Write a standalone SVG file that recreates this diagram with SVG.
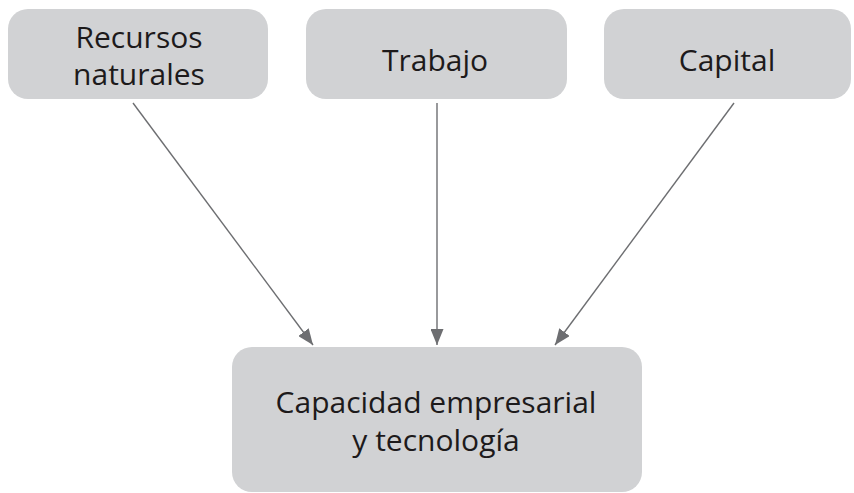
<svg xmlns="http://www.w3.org/2000/svg" width="854" height="493" viewBox="0 0 854 493">
<defs>
<style>
.box{fill:#d1d2d4;}
.lbl{font-family:"Open Sans","Noto Sans",sans-serif;font-size:30px;font-weight:500;fill:#1d1a1b;text-anchor:middle;}
.conn{stroke:#6d6e71;stroke-width:1.4;fill:none;}
</style>
<marker id="ah" markerWidth="16" markerHeight="13" viewBox="0 0 16 13" refX="16" refY="6.5" orient="auto" markerUnits="userSpaceOnUse">
<path d="M0,0 L16,6.5 L0,13 Z" fill="#6d6e71"/>
</marker>
</defs>
<rect width="854" height="493" fill="#ffffff"/>
<g id="n1">
<rect class="box" x="8" y="9" width="260" height="90" rx="20"/>
<text class="lbl" x="139" y="48">Recursos</text>
<text class="lbl" x="139" y="85">naturales</text>
</g>
<g id="n2">
<rect class="box" x="306" y="9" width="261" height="90" rx="20"/>
<text class="lbl" x="435" y="71">Trabajo</text>
</g>
<g id="n3">
<rect class="box" x="604" y="9" width="247" height="90" rx="20"/>
<text class="lbl" x="727" y="71">Capital</text>
</g>
<g id="n4">
<rect class="box" x="232" y="347" width="410" height="145" rx="20"/>
<text class="lbl" x="436" y="413">Capacidad empresarial</text>
<text class="lbl" x="436" y="451">y tecnología</text>
</g>
<g id="connectors">
<line class="conn" x1="133" y1="103" x2="313" y2="345" marker-end="url(#ah)"/>
<line class="conn" x1="437" y1="103" x2="437" y2="345" marker-end="url(#ah)"/>
<line class="conn" x1="734" y1="103" x2="555" y2="345" marker-end="url(#ah)"/>
</g>
</svg>
